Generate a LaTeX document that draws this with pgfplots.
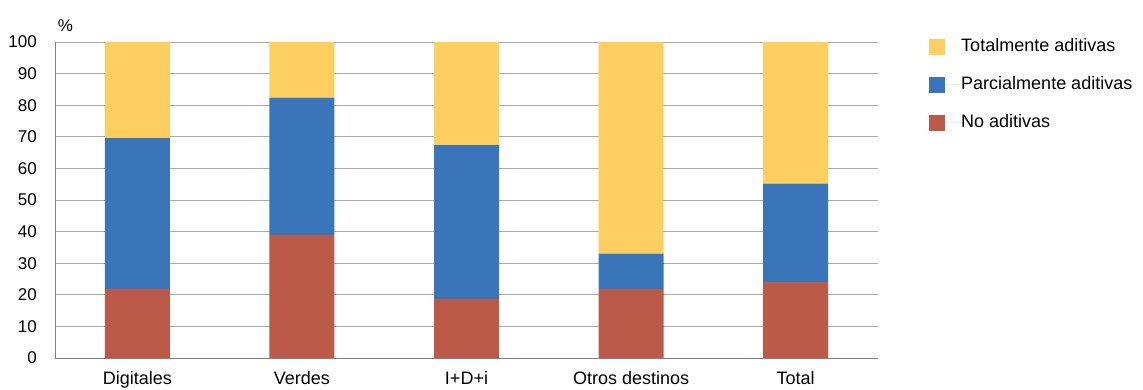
\documentclass[border=0pt]{standalone}
\usepackage{pgfplots}
\pgfplotsset{compat=1.18}
\usepackage{fontspec}
\setmainfont{Liberation Sans}
\definecolor{cy}{RGB}{253,206,96}
\definecolor{cb}{RGB}{58,116,185}
\definecolor{cr}{RGB}{187,90,72}
\definecolor{gridc}{RGB}{170,170,170}
\definecolor{axc}{RGB}{130,130,130}
\begin{document}
\fontsize{17}{20}\selectfont
\begin{tikzpicture}
\path[use as bounding box] (-55pt,-32pt) rectangle (1088pt,358pt);
\begin{axis}[
  at={(0,0)}, anchor=south west,
  scale only axis, width=823pt, height=316pt,
  ybar stacked, bar width=65pt,
  xmin=-0.5, xmax=4.5, ymin=0, ymax=100,
  xtick={0,1,2,3,4},
  xticklabels={Digitales,Verdes,I+D+i,Otros destinos,Total},
  major x tick style={draw=none},
  extra x ticks={0.5,1.5,2.5,3.5,4.5},
  extra x tick labels={},
  extra x tick style={major tick length=5pt, tick align=inside, tick style={draw=axc, line width=0.8pt}, grid=none},
  ytick={0,10,...,100},
  ytick style={draw=none},
  ymajorgrids, grid style={gridc, line width=0.7pt},
  axis lines*=left,
  axis line style={-, draw=axc, line width=0.9pt},
  /pgf/number format/assume math mode=true,
  yticklabel style={font=\fontsize{17}{20}\selectfont, anchor=east, inner sep=0pt, xshift=-18pt},
  xticklabel style={font=\fontsize{18}{20}\selectfont, anchor=base, inner sep=0pt, yshift=-26.5pt},
  legend style={at={(1.062,1.011)}, anchor=north west, draw=none, fill=none,
    font=\fontsize{18}{20}\selectfont, row sep=22pt, inner sep=0pt,
    nodes={inner sep=0pt, anchor=west}},
  legend cell align=left,
  reverse legend,
  clip=false,
]
\addplot[fill=cr, draw=none, legend image code/.code={\fill[cr] (0pt,-8pt) rectangle (16pt,8pt); \path (0pt,0pt) -- (32pt,0pt);}] coordinates {(0,21.9) (1,39.0) (2,18.7) (3,21.8) (4,24.0)};
\addplot[fill=cb, draw=none, legend image code/.code={\fill[cb] (0pt,-8pt) rectangle (16pt,8pt); \path (0pt,0pt) -- (32pt,0pt);}] coordinates {(0,47.7) (1,43.4) (2,48.7) (3,11.2) (4,31.2)};
\addplot[fill=cy, draw=none, legend image code/.code={\fill[cy] (0pt,-8pt) rectangle (16pt,8pt); \path (0pt,0pt) -- (32pt,0pt);}] coordinates {(0,30.4) (1,17.6) (2,32.6) (3,67.0) (4,44.8)};
\legend{No aditivas,Parcialmente aditivas,Totalmente aditivas}
\node[anchor=base, inner sep=0pt] at (axis description cs:0.0128,1.033) {\%};
\end{axis}
\end{tikzpicture}
\end{document}
